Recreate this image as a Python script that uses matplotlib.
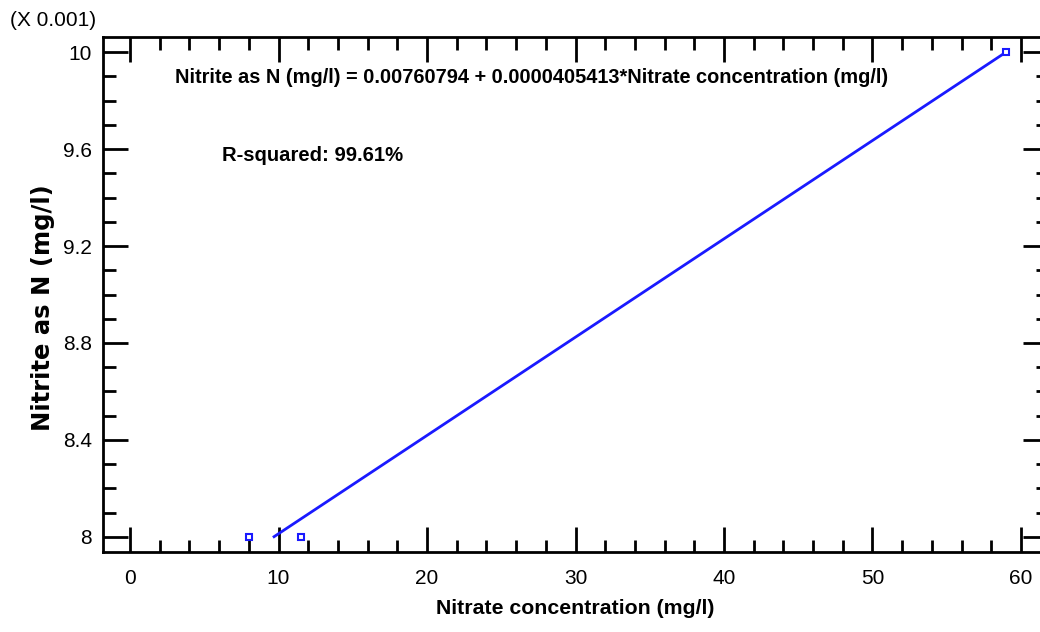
import matplotlib
matplotlib.use("Agg")
import matplotlib.pyplot as plt
from matplotlib.ticker import MultipleLocator
import numpy as np

# observed data (mg/l)
nitrate = [8.0, 11.5, 59.0]
nitrite = [0.0080, 0.0080, 0.0100]

# fitted model
intercept = 0.00760794
slope = 0.0000405413
fit_range = [9.7, 59.0]
r_squared = 99.61

scale = 1000  # axis shown as (X 0.001)

plt.rcParams['font.family'] = ['Liberation Sans Narrow', 'Liberation Sans', 'DejaVu Sans']

fig = plt.figure(figsize=(10.4, 6.32), dpi=100)
W, H = 1040, 632
ax = fig.add_axes([103 / W, (H - 552) / H, (1048 - 103) / W, (552 - 37) / H])

x_fit = np.array(fit_range)
y_fit = intercept + slope * x_fit
ax.plot(x_fit, y_fit * scale, color='#1a1aff', lw=2)
ax.plot(nitrate, np.array(nitrite) * scale, ls='none', marker='s', ms=5,
        mfc='white', mec='#1a1aff', mew=1.5)

ax.set_xlim(-1.82, 61.82)
ax.set_ylim(7.938, 10.062)
ax.xaxis.set_major_locator(MultipleLocator(10))
ax.xaxis.set_minor_locator(MultipleLocator(2))
ax.yaxis.set_major_locator(MultipleLocator(0.4))
ax.yaxis.set_minor_locator(MultipleLocator(0.1))
ax.yaxis.set_major_formatter(plt.FuncFormatter(lambda v, p: f"{v:g}"))

for s in ax.spines.values():
    s.set_linewidth(2)
ax.tick_params(which='both', direction='in', top=True, right=True, width=2,
               labelsize=15)
ax.tick_params(axis='x', pad=12)
ax.tick_params(axis='y', pad=8)
ax.tick_params(which='major', length=18)
ax.tick_params(which='minor', length=9)

ax.set_xlabel("Nitrate concentration (mg/l)", fontsize=15.3, fontweight='bold', labelpad=8)
ax.set_ylabel("Nitrite as N (mg/l)", fontsize=17.5, fontweight='bold',
              family=['DejaVu Sans'], labelpad=6)
ax.yaxis.label.set_y(0.474)

fig.text(10 / W, 1 - 20 / H, "(X 0.001)", fontsize=15, va='center', ha='left')

ax.text(3.0, 9.893, f"Nitrite as N (mg/l) = {intercept} + {slope:.10f}".rstrip('0') + "*Nitrate concentration (mg/l)",
        fontsize=14.45, fontweight='bold', va='center', ha='left')
ax.text(6.2, 9.575, f"R-squared: {r_squared}%", fontsize=14.6, fontweight='bold',
        va='center', ha='left')

fig.savefig("out.png", dpi=100)
